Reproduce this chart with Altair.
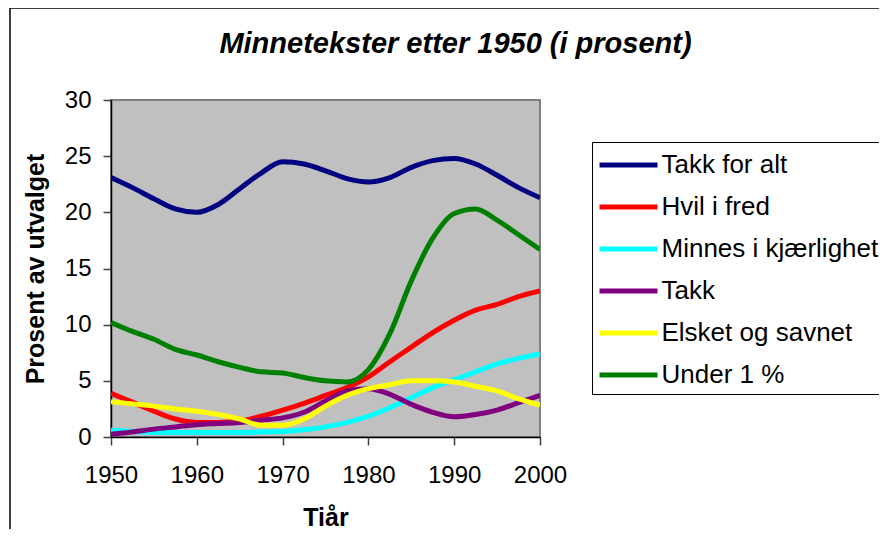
import altair as alt
import pandas as pd

years = [1950, 1952.5, 1955, 1957.5, 1960, 1962.5, 1965, 1967.5, 1970, 1972.5, 1975,
         1977.5, 1980, 1982.5, 1985, 1987.5, 1990, 1992.5, 1995, 1997.5, 2000]

series_names = ["Takk for alt", "Hvil i fred", "Minnes i kjærlighet", "Takk",
                "Elsket og savnet", "Under 1 %"]
series_colors = ["#000080", "#FF0000", "#00FFFF", "#800080", "#FFFF00", "#008000"]

takk_for_alt = [23.1, 22.2, 21.2, 20.3, 20.0, 20.7, 22.1, 23.5, 24.5, 24.3, 23.7,
                23.0, 22.7, 23.1, 24.0, 24.6, 24.8, 24.3, 23.3, 22.2, 21.3]
hvil_i_fred = [3.9, 3.1, 2.3, 1.6, 1.3, 1.3, 1.4, 1.85, 2.4, 3.0, 3.7,
               4.4, 5.35, 6.7, 8.0, 9.3, 10.4, 11.3, 11.8, 12.5, 13.0]
minnes = [0.6, 0.5, 0.4, 0.4, 0.4, 0.4, 0.4, 0.45, 0.5, 0.65, 0.9,
          1.3, 1.85, 2.6, 3.5, 4.4, 5.1, 5.8, 6.5, 7.0, 7.4]
takk = [0.25, 0.45, 0.7, 0.9, 1.1, 1.2, 1.3, 1.5, 1.7, 2.2, 3.2,
        4.1, 4.3, 3.8, 2.9, 2.2, 1.8, 2.0, 2.4, 3.05, 3.7]
elsket = [3.15, 2.95, 2.75, 2.5, 2.3, 2.0, 1.6, 1.05, 1.05, 1.6, 2.75,
          3.7, 4.3, 4.65, 5.0, 5.0, 4.9, 4.5, 4.1, 3.4, 2.85]
under1 = [10.2, 9.4, 8.7, 7.8, 7.3, 6.7, 6.2, 5.8, 5.7, 5.3, 5.0,
          4.9, 6.0, 9.2, 13.9, 17.7, 19.9, 20.3, 19.3, 18.0, 16.7]

all_values = [takk_for_alt, hvil_i_fred, minnes, takk, elsket, under1]

rows = []
for idx, (name, vals) in enumerate(zip(series_names, all_values)):
    for yr, v in zip(years, vals):
        rows.append({"Serie": name, "År": yr, "Verdi": v, "ord": idx})
df = pd.DataFrame(rows)

FONT = "Liberation Sans"

lines = alt.Chart(df).mark_line(strokeWidth=5, interpolate="monotone", clip=True).encode(
    x=alt.X("År:Q",
            scale=alt.Scale(domain=[1950, 2000], nice=False, zero=False),
            axis=alt.Axis(title="Tiår", values=[1950, 1960, 1970, 1980, 1990, 2000],
                          format="d", grid=False, tickSize=8, labelPadding=30,
                          labelBaseline="middle", labelFontSize=24, labelFont=FONT,
                          labelColor="black", titleFont=FONT, titleFontSize=25,
                          titleFontWeight="bold", titleColor="black",
                          titleY=80, titleBaseline="middle",
                          domainColor="black", domainWidth=1.5,
                          tickColor="#404040", tickWidth=1.5, labelFlush=False)),
    y=alt.Y("Verdi:Q",
            scale=alt.Scale(domain=[0, 30], nice=False),
            axis=alt.Axis(title="Prosent av utvalget", values=[0, 5, 10, 15, 20, 25, 30],
                          grid=False, tickSize=8, labelPadding=12,
                          labelFontSize=24, labelFont=FONT, labelColor="black",
                          titleFont=FONT, titleFontSize=25, titleFontWeight="bold",
                          titleColor="black", titleX=-76, titleY=168.5,
                          titleAngle=-90, titleAlign="center", titleBaseline="middle",
                          domainColor="black", domainWidth=1.5,
                          tickColor="#404040", tickWidth=1.5)),
    color=alt.Color("Serie:N",
                    scale=alt.Scale(domain=series_names, range=series_colors),
                    sort=series_names,
                    legend=alt.Legend(title=None, orient="none", legendX=481, legendY=42,
                                      symbolType="M-2,0H2", symbolSize=841,
                                      symbolStrokeWidth=5, symbolOffset=13.5,
                                      labelFontSize=26, labelOffset=16,
                                      labelFont=FONT, labelColor="black",
                                      fillColor="white", strokeColor="black",
                                      padding=6, rowPadding=12,
                                      labelLimit=400)),
    detail="Serie:N",
    order=alt.Order("ord:Q"),
)

one = pd.DataFrame({"a": [0]})
frame_left = alt.Chart(one).mark_rule(color="black", strokeWidth=1.5, clip=False).encode(
    x=alt.value(-101), y=alt.value(-92), y2=alt.value(700)
)
frame_top = alt.Chart(one).mark_rule(color="black", strokeWidth=1.5, clip=False).encode(
    x=alt.value(-101), x2=alt.value(2000), y=alt.value(-92)
)

chart = alt.layer(frame_left, frame_top, lines).properties(
    width=429,
    height=337,
    view=alt.ViewBackground(fill="#C0C0C0", stroke="#808080", strokeWidth=2),
    title=alt.TitleParams("Minnetekster etter 1950 (i prosent)", font=FONT, fontSize=29,
                          fontWeight="bold", fontStyle="italic", color="black",
                          anchor="middle", dx=130, offset=0, dy=52),
    padding={"left": 103, "top": 92, "right": 339, "bottom": 92},
    autosize=alt.AutoSizeParams(type="none"),
).configure(background="white")

chart.save("out.html", embed_options={"renderer": "svg", "actions": False})
